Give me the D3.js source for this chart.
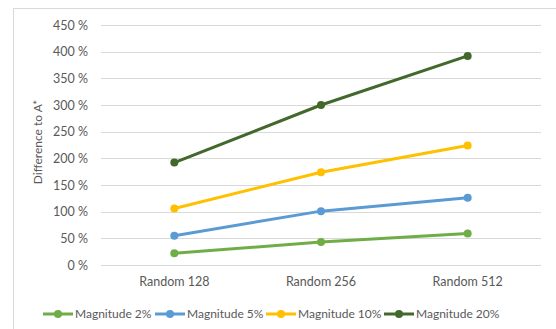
<!DOCTYPE html>
<html>
<head>
<meta charset="utf-8">
<script src="https://cdn.jsdelivr.net/npm/d3@7"></script>
<style>
  html, body { margin: 0; padding: 0; background: #fff; }
  svg { display: block; font-family: Lato, "Open Sans", sans-serif; }
</style>
</head>
<body>
<svg id="chart" width="556" height="329"></svg>
<script>
// Categories along the x axis
const categories = ["Random 128", "Random 256", "Random 512"];

// Series names and values (percent difference to A*)
const seriesNames = ["Magnitude 2%", "Magnitude 5%", "Magnitude 10%", "Magnitude 20%"];
const magnitude2 = [22, 43, 59];
const magnitude5 = [55, 101, 126];
const magnitude10 = [106, 174, 224];
const magnitude20 = [192, 300, 392];
const seriesColors = ["#70AD47", "#5B9BD5", "#FFC000", "#43682B"];

// Y axis tick values
const yTicks = [0, 50, 100, 150, 200, 250, 300, 350, 400, 450];

const series = [magnitude2, magnitude5, magnitude10, magnitude20].map((values, i) => ({
  name: seriesNames[i], values, color: seriesColors[i]
}));

const svg = d3.select("#chart");

// Chart area frame
svg.append("rect")
  .attr("x", 13.5).attr("y", 8.5)
  .attr("width", 560).attr("height", 340)
  .attr("fill", "none").attr("stroke", "#d9d9d9").attr("stroke-width", 1);

const plot = { left: 101, right: 541, top: 25, bottom: 265 };

const x = d3.scaleBand().domain(categories).range([plot.left, plot.right]);
const y = d3.scaleLinear().domain([0, 450]).range([plot.bottom, plot.top]);

// Gridlines
svg.append("g")
  .selectAll("line")
  .data(yTicks)
  .join("line")
  .attr("x1", plot.left).attr("x2", plot.right)
  .attr("y1", d => Math.round(y(d)) + 0.5).attr("y2", d => Math.round(y(d)) + 0.5)
  .attr("stroke", "#d9d9d9").attr("stroke-width", 1);

// Y axis labels
const yAxis = d3.axisLeft(y).tickValues(yTicks).tickSize(0).tickPadding(0)
  .tickFormat(d => d + " %");
svg.append("g")
  .attr("transform", `translate(${plot.left - 13},0)`)
  .call(yAxis)
  .call(g => g.select(".domain").remove())
  .call(g => g.selectAll("text").attr("fill", "#595959").attr("font-size", 12.5)
    .attr("font-family", "Lato, 'Open Sans', sans-serif"));

// X axis labels
const xAxis = d3.axisBottom(x).tickSize(0).tickPadding(0);
svg.append("g")
  .attr("transform", `translate(0,${plot.bottom + 12})`)
  .call(xAxis)
  .call(g => g.select(".domain").remove())
  .call(g => g.selectAll("text").attr("fill", "#595959").attr("font-size", 12.5)
    .attr("font-family", "Lato, 'Open Sans', sans-serif"));

// Y axis title
svg.append("text")
  .attr("transform", `translate(42,142) rotate(-90)`)
  .attr("text-anchor", "middle")
  .attr("fill", "#595959").attr("font-size", 12)
  .text("Difference to A*");

// Lines and markers
const line = d3.line()
  .x((d, i) => x(categories[i]) + x.bandwidth() / 2)
  .y(d => y(d));

const groups = svg.append("g").selectAll("g")
  .data(series)
  .join("g");

groups.append("path")
  .attr("d", d => line(d.values))
  .attr("fill", "none")
  .attr("stroke", d => d.color)
  .attr("stroke-width", 3)
  .attr("stroke-linejoin", "round")
  .attr("stroke-linecap", "round");

groups.selectAll("circle")
  .data(d => d.values.map((v, i) => ({ v, i, color: d.color })))
  .join("circle")
  .attr("cx", d => x(categories[d.i]) + x.bandwidth() / 2)
  .attr("cy", d => y(d.v))
  .attr("r", 4)
  .attr("fill", d => d.color);

// Legend
const legendX = [43, 155, 266, 384];
const legend = svg.append("g").selectAll("g")
  .data(series)
  .join("g")
  .attr("transform", (d, i) => `translate(${legendX[i]},314)`);

legend.append("line")
  .attr("x1", 0).attr("x2", 30)
  .attr("stroke", d => d.color).attr("stroke-width", 3);
legend.append("circle")
  .attr("cx", 15).attr("r", 4).attr("fill", d => d.color);
legend.append("text")
  .attr("x", 32).attr("dy", "0.35em")
  .attr("fill", "#595959").attr("font-size", 12)
  .text(d => d.name);
</script>
</body>
</html>
